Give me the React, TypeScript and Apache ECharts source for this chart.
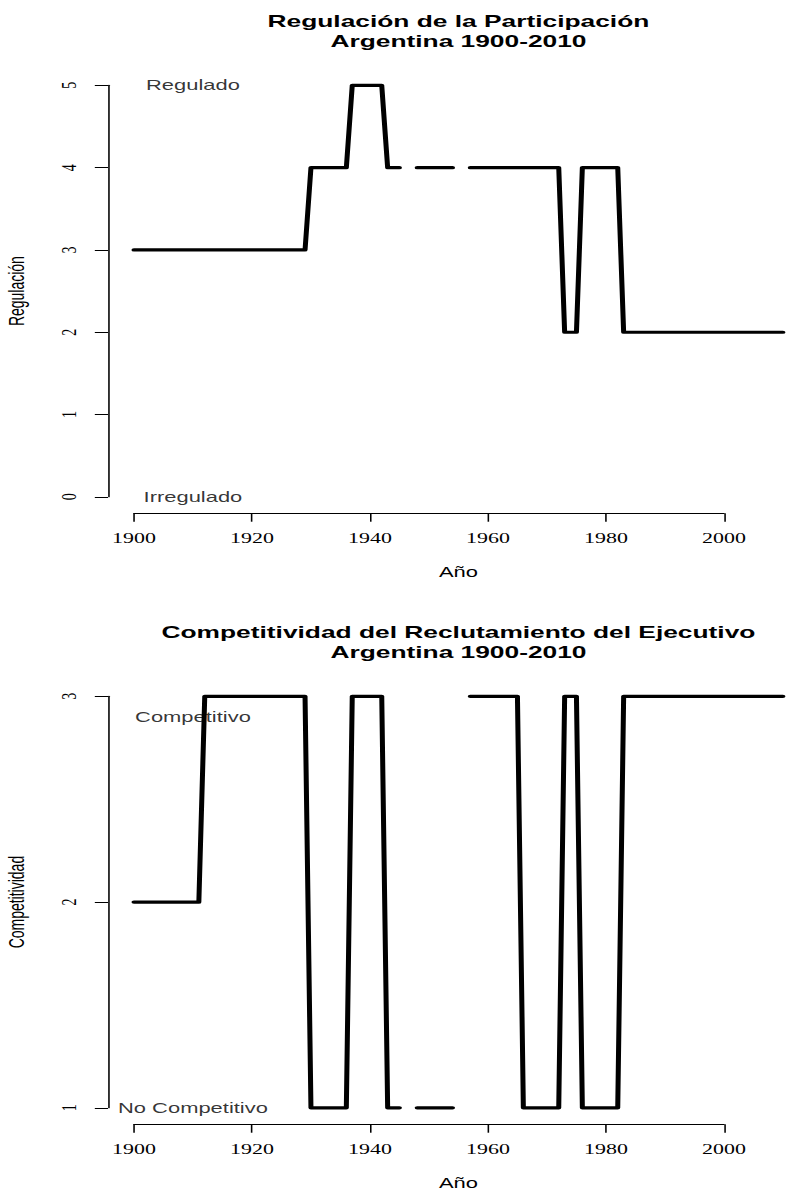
import { useEffect, useRef } from "react";
import * as echarts from "echarts";

// ---------------- data ----------------
const YEARS: number[] = Array.from({ length: 111 }, (_, i) => 1900 + i);

// Regulación de la Participación (1900..2010), null = sin dato
const REGULACION: (number | null)[] = [
  3, 3, 3, 3, 3, 3, 3, 3, 3, 3, // 1900
  3, 3, 3, 3, 3, 3, 3, 3, 3, 3, // 1910
  3, 3, 3, 3, 3, 3, 3, 3, 3, 3, // 1920
  4, 4, 4, 4, 4, 4, 4, 5, 5, 5, // 1930
  5, 5, 5, 4, 4, 4, null, null, 4, 4, // 1940
  4, 4, 4, 4, 4, null, null, 4, 4, 4, // 1950
  4, 4, 4, 4, 4, 4, 4, 4, 4, 4, // 1960
  4, 4, 4, 2, 2, 2, 4, 4, 4, 4, // 1970
  4, 4, 4, 2, 2, 2, 2, 2, 2, 2, // 1980
  2, 2, 2, 2, 2, 2, 2, 2, 2, 2, // 1990
  2, 2, 2, 2, 2, 2, 2, 2, 2, 2, // 2000
  2, // 2010
];

// Competitividad del Reclutamiento del Ejecutivo (1900..2010)
const COMPETITIVIDAD: (number | null)[] = [
  2, 2, 2, 2, 2, 2, 2, 2, 2, 2, // 1900
  2, 2, 3, 3, 3, 3, 3, 3, 3, 3, // 1910
  3, 3, 3, 3, 3, 3, 3, 3, 3, 3, // 1920
  1, 1, 1, 1, 1, 1, 1, 3, 3, 3, // 1930
  3, 3, 3, 1, 1, 1, null, null, 1, 1, // 1940
  1, 1, 1, 1, 1, null, null, 3, 3, 3, // 1950
  3, 3, 3, 3, 3, 3, 1, 1, 1, 1, // 1960
  1, 1, 1, 3, 3, 3, 1, 1, 1, 1, // 1970
  1, 1, 1, 3, 3, 3, 3, 3, 3, 3, // 1980
  3, 3, 3, 3, 3, 3, 3, 3, 3, 3, // 1990
  3, 3, 3, 3, 3, 3, 3, 3, 3, 3, // 2000
  3, // 2010
];

const REG_TICKS = [0, 1, 2, 3, 4, 5];
const COMP_TICKS = [1, 2, 3];
const YEAR_TICKS = [1900, 1920, 1940, 1960, 1980, 2000];
const XLIM = [1900, 2010];

const REG_NOTES = [
  { year: 1910, value: 5, text: "Regulado" },
  { year: 1910, value: 0, text: "Irregulado" },
];
const COMP_NOTES = [
  { year: 1910, value: 2.9, text: "Competitivo" },
  { year: 1910, value: 1, text: "No Competitivo" },
];

const PANELS = [
  {
    title: ["Regulación de la Participación", "Argentina 1900-2010"],
    ylab: "Regulación",
    xlab: "Año",
    values: REGULACION,
    ticks: REG_TICKS,
    notes: REG_NOTES,
    offset: 0,
  },
  {
    title: ["Competitividad del Reclutamiento del Ejecutivo", "Argentina 1900-2010"],
    ylab: "Competitividad",
    xlab: "Año",
    values: COMPETITIVIDAD,
    ticks: COMP_TICKS,
    notes: COMP_NOTES,
    offset: 611,
  },
];

// ---------------- layout (device frame, stretched horizontally afterwards) ----------------
const VIEW_W = 787;
const VIEW_H = 1198;
const STRETCH = 787 / 502;
const DEV_W = 560; // wider than the visible part: the plot runs past the right edge
const DEV_H = 1240;
const LINE = 16.8;
const PANEL_H = 599;
const PLOT_LEFT = 4.1 * LINE;
const PLOT_TOP_M = 4.1 * LINE;
const PLOT_BOT_M = 5.1 * LINE;
const PLOT_H = PANEL_H - PLOT_TOP_M - PLOT_BOT_M;
const X_PAD = 0.04 * (XLIM[1] - XLIM[0]);
const PX_PER_YEAR = 5.9 / STRETCH;
const PLOT_W = (XLIM[1] - XLIM[0] + 2 * X_PAD) * PX_PER_YEAR;

const SANS = "'Liberation Sans', Arial, sans-serif";
const SERIF = "'Liberation Serif', 'Times New Roman', serif";

function buildOption() {
  const grid: any[] = [];
  const xAxis: any[] = [];
  const yAxis: any[] = [];
  const series: any[] = [];
  const graphic: any[] = [];

  PANELS.forEach((p) => {
    const off = p.offset;
    const yMin = Math.min(...p.ticks);
    const yMax = Math.max(...p.ticks);
    const pad = 0.04 * (yMax - yMin);
    const top = off + PLOT_TOP_M;
    const unit = PLOT_H / (yMax - yMin + 2 * pad);
    const g0 = grid.length;

    grid.push({ left: PLOT_LEFT, top, width: PLOT_W, height: PLOT_H });
    grid.push({ left: PLOT_LEFT, top: top + pad * unit, width: PLOT_W, height: (yMax - yMin) * unit });
    grid.push({
      left: PLOT_LEFT + (YEAR_TICKS[0] - (XLIM[0] - X_PAD)) * PX_PER_YEAR,
      top,
      width: (YEAR_TICKS[YEAR_TICKS.length - 1] - YEAR_TICKS[0]) * PX_PER_YEAR,
      height: PLOT_H,
    });

    xAxis.push({ gridIndex: g0, type: "value", min: XLIM[0] - X_PAD, max: XLIM[1] + X_PAD, show: false });
    yAxis.push({ gridIndex: g0, type: "value", min: yMin - pad, max: yMax + pad, show: false });

    xAxis.push({ gridIndex: g0 + 1, type: "value", min: 0, max: 1, show: false });
    yAxis.push({
      gridIndex: g0 + 1,
      type: "value",
      min: yMin,
      max: yMax,
      interval: 1,
      axisLine: { show: true, lineStyle: { color: "#000", width: 1 } },
      axisTick: { show: true, length: 8.4, lineStyle: { color: "#000", width: 1 } },
      axisLabel: { rotate: 90, margin: 18, color: "#000", fontSize: 14, fontFamily: SERIF, formatter: (v: number) => String(v) },
      splitLine: { show: false },
    });

    xAxis.push({
      gridIndex: g0 + 2,
      type: "value",
      position: "bottom",
      min: YEAR_TICKS[0],
      max: YEAR_TICKS[YEAR_TICKS.length - 1],
      interval: YEAR_TICKS[1] - YEAR_TICKS[0],
      axisLine: { show: true, lineStyle: { color: "#000", width: 1 } },
      axisTick: { show: true, length: 8.4, lineStyle: { color: "#000", width: 1 } },
      axisLabel: { margin: 18, color: "#000", fontSize: 14, fontFamily: SERIF, formatter: (v: number) => String(v) },
      splitLine: { show: false },
    });
    yAxis.push({ gridIndex: g0 + 2, type: "value", min: 0, max: 1, show: false });

    const xi = xAxis.length - 3;
    const yi = yAxis.length - 3;

    series.push({
      type: "line",
      xAxisIndex: xi,
      yAxisIndex: yi,
      data: YEARS.map((yr, i) => [yr, p.values[i] === null ? "-" : p.values[i]]),
      symbol: "none",
      showSymbol: false,
      connectNulls: false,
      silent: true,
      lineStyle: { color: "#000", width: 3.2, cap: "round", join: "round" },
    });

    series.push({
      type: "scatter",
      xAxisIndex: xi,
      yAxisIndex: yi,
      symbol: "circle",
      symbolSize: 1,
      silent: true,
      itemStyle: { color: "rgba(0,0,0,0)" },
      data: p.notes.map((n) => [n.year, n.value, n.text]),
      label: {
        show: true,
        position: "inside",
        formatter: (d: any) => d.data[2],
        color: "#000",
        fontSize: 14,
        fontFamily: SANS,
      },
    });

    const cx = PLOT_LEFT + PLOT_W / 2;
    graphic.push({
      type: "text",
      x: cx,
      y: off + 21,
      style: { text: p.title[0], align: "center", verticalAlign: "middle", fill: "#000", font: `bold 16.8px ${SANS}` },
    });
    graphic.push({
      type: "text",
      x: cx,
      y: off + 41,
      style: { text: p.title[1], align: "center", verticalAlign: "middle", fill: "#000", font: `bold 16.8px ${SANS}` },
    });
    graphic.push({
      type: "text",
      x: cx,
      y: top + PLOT_H + 3.5 * LINE,
      style: { text: p.xlab, align: "center", verticalAlign: "middle", fill: "#000", font: `14px ${SANS}` },
    });
    graphic.push({
      type: "text",
      x: PLOT_LEFT - 3.5 * LINE,
      y: top + PLOT_H / 2,
      rotation: Math.PI / 2,
      style: { text: p.ylab, align: "center", verticalAlign: "middle", fill: "#000", font: `14px ${SANS}` },
    });
  });

  return {
    animation: false,
    backgroundColor: "#fff",
    grid,
    xAxis,
    yAxis,
    series,
    graphic,
  };
}

export default function App() {
  const ref = useRef<HTMLDivElement>(null);
  useEffect(() => {
    if (!ref.current) return;
    const chart = echarts.init(ref.current, undefined, { renderer: "svg" });
    chart.setOption(buildOption());
    return () => chart.dispose();
  }, []);
  return (
    <div
      style={{
        position: "absolute",
        left: 0,
        top: 0,
        width: VIEW_W,
        height: VIEW_H,
        overflow: "hidden",
        background: "#fff",
      }}
    >
      <div
        ref={ref}
        style={{
          position: "absolute",
          left: 0,
          top: 0,
          width: DEV_W,
          height: DEV_H,
          transform: `scaleX(${STRETCH})`,
          transformOrigin: "0 0",
        }}
      />
    </div>
  );
}
